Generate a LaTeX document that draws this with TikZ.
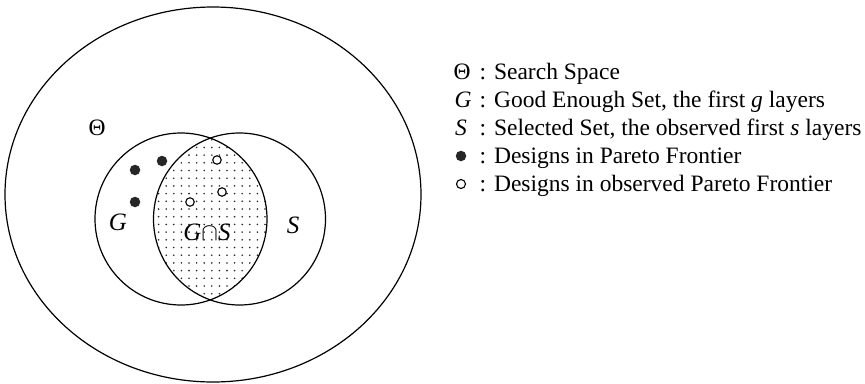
\documentclass[tikz,border=0pt]{standalone}
\usepackage{fontspec}
\setmainfont{Liberation Serif}
\usetikzlibrary{shapes.geometric}
\begin{document}
\begin{tikzpicture}[x=1pt,y=-1pt,
  outline/.style={draw=black,line width=1.2pt},
  setcircle/.style={outline,circle,minimum size=172pt,inner sep=0pt},
  full/.style={circle,fill=black!85,minimum size=10.5pt,inner sep=0pt},
  hollow/.style={circle,draw=black,line width=1.1pt,fill=white,minimum size=8.5pt,inner sep=0pt},
  lbl/.style={inner sep=0pt,font=\fontsize{23.5}{28}\selectfont},
  biglbl/.style={inner sep=0pt,font=\fontsize{25}{30}\selectfont},
  legtext/.style={inner sep=0pt,anchor=base west,font=\fontsize{23.5}{28}\selectfont}
]
\useasboundingbox (0,0) rectangle (865,383);
% search space
\node[outline,ellipse,minimum width=416pt,minimum height=375pt,inner sep=0pt] (Theta) at (213,194.5) {};
% dotted intersection
\begin{scope}
  \clip (181,219) circle (86);
  \clip (239.5,219) circle (86);
  \foreach \i in {0,...,17}{
    \foreach \j in {0,...,24}{
      \fill[black!85] ({151+7.6*\i},{132+7.7*\j}) circle (0.9);
    }
  }
\end{scope}
\node[setcircle] (G) at (181,219) {};
\node[setcircle] (S) at (239.5,219) {};
% labels
\node[lbl] (thetalbl) at (97,128) {Θ};
\node[biglbl] (glbl) at (118,222) {\textit{G}};
\node[biglbl] (gslbl) at (207,232) {\textit{G}$\cap$\textit{S}};
\node[biglbl] (slbl) at (293,225) {\textit{S}};
% designs
\node[full] (f1) at (135,170) {};
\node[full] (f2) at (162,161) {};
\node[full] (f3) at (135,202) {};
\node[hollow] (h1) at (217,160) {};
\node[hollow] (h2) at (222,192) {};
\node[hollow] (h3) at (190,202) {};
% legend
\node[lbl,anchor=base] (l1s) at (462,79) {Θ};
\node[legtext] (l1t) at (479.5,79) {: Search Space};
\node[lbl,anchor=base] (l2s) at (463,107) {\textit{G}};
\node[legtext] (l2t) at (479.5,107) {: Good Enough Set, the first \textit{g} layers};
\node[lbl,anchor=base] (l3s) at (461,135) {\textit{S}};
\node[legtext] (l3t) at (479.5,135) {: Selected Set, the observed first \textit{s} layers};
\node[full,minimum size=10.5pt] (l4s) at (461,156) {};
\node[legtext] (l4t) at (479.5,163) {: Designs in Pareto Frontier};
\node[hollow,minimum size=9pt] (l5s) at (461,184) {};
\node[legtext] (l5t) at (479.5,191) {: Designs in observed Pareto Frontier};
\end{tikzpicture}
\end{document}
